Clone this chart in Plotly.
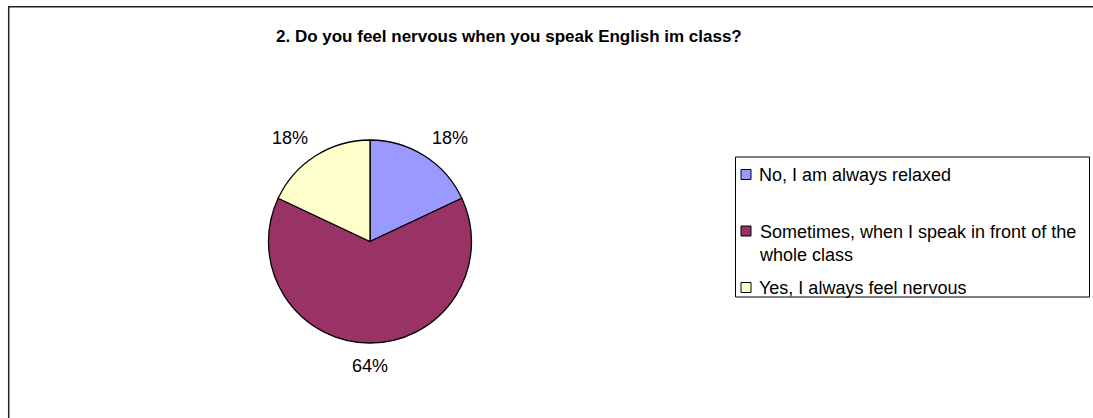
import math
import plotly.graph_objects as go

W, H = 1093, 418

title = "2. Do you feel nervous when you speak English im class?"
categories = ["No, I am always relaxed",
              "Sometimes, when I speak in front of the<br>whole class",
              "Yes, I always feel nervous"]
values = [18, 64, 18]
colors = ["#9999FF", "#993366", "#FFFFCC"]

FONT = "Liberation Sans, Arial, sans-serif"


def px(x):
    return x / W


def py(y):
    return 1 - y / H


# pie geometry (pixels)
cx, cy, r = 370, 241.5, 101.5

fig = go.Figure()
fig.add_trace(go.Pie(
    labels=categories,
    values=values,
    sort=False,
    direction="clockwise",
    rotation=0,
    marker=dict(colors=colors, line=dict(color="black", width=1.3)),
    textinfo="none",
    domain=dict(x=[px(cx - r), px(cx + r)], y=[py(cy + r), py(cy - r)]),
    showlegend=False,
    hoverinfo="label+percent",
))

shapes = [
    # chart frame (extends beyond the visible window on right/bottom)
    dict(type="rect", xref="paper", yref="paper",
         x0=px(8.7), x1=px(1120), y0=py(450), y1=py(6.7),
         line=dict(color="#222222", width=1.5), fillcolor="rgba(0,0,0,0)", layer="below"),
    # legend box
    dict(type="rect", xref="paper", yref="paper",
         x0=px(735.5), x1=px(1089.5), y0=py(297), y1=py(157),
         line=dict(color="black", width=1), fillcolor="rgba(0,0,0,0)", layer="below"),
]

annotations = [dict(text="<b>" + title + "</b>", x=px(508.5), y=py(36.5), xref="paper", yref="paper",
                    showarrow=False, font=dict(family=FONT, size=17, color="black"),
                    xanchor="center", yanchor="middle")]

# percentage labels outside the slices, positioned from the slice mid-angles
total = sum(values)
pad, lw, lh = 15, 36, 13
cum = 0
for v in values:
    mid = (cum + v / 2) / total * 2 * math.pi
    cum += v
    s, c = math.sin(mid), math.cos(mid)
    ax = cx + (r + pad) * s
    ay = cy - (r + pad) * c
    sx = 0 if abs(s) < 1e-6 else (1 if s > 0 else -1)
    sy = 0 if abs(c) < 1e-6 else (-1 if c > 0 else 1)
    tx = ax + sx * lw / 2
    ty = ay + sy * lh / 2 + 1.5
    annotations.append(dict(text=f"{round(100 * v / total)}%", x=px(tx), y=py(ty),
                            xref="paper", yref="paper", showarrow=False,
                            font=dict(family=FONT, size=18, color="black"),
                            xanchor="center", yanchor="middle"))

# custom legend
legend_rows = [174.5, 231, 287.5]
for cat, col, yy in zip(categories, colors, legend_rows):
    shapes.append(dict(type="rect", xref="paper", yref="paper",
                       x0=px(741), x1=px(751), y0=py(yy + 5), y1=py(yy - 5),
                       line=dict(color="black", width=1), fillcolor=col))
    annotations.append(dict(text=cat, x=px(757), y=py(yy - 11.5), xref="paper", yref="paper",
                            showarrow=False, align="left",
                            font=dict(family=FONT, size=18, color="black"),
                            xanchor="left", yanchor="top"))

fig.update_layout(
    width=W, height=H,
    margin=dict(l=0, r=0, t=0, b=0),
    paper_bgcolor="white", plot_bgcolor="white",
    shapes=shapes, annotations=annotations,
    showlegend=False,
)

fig.write_html("out.html",
               config={"displayModeBar": False},
               post_script="document.body.style.margin='0';document.body.style.overflow='hidden';")
